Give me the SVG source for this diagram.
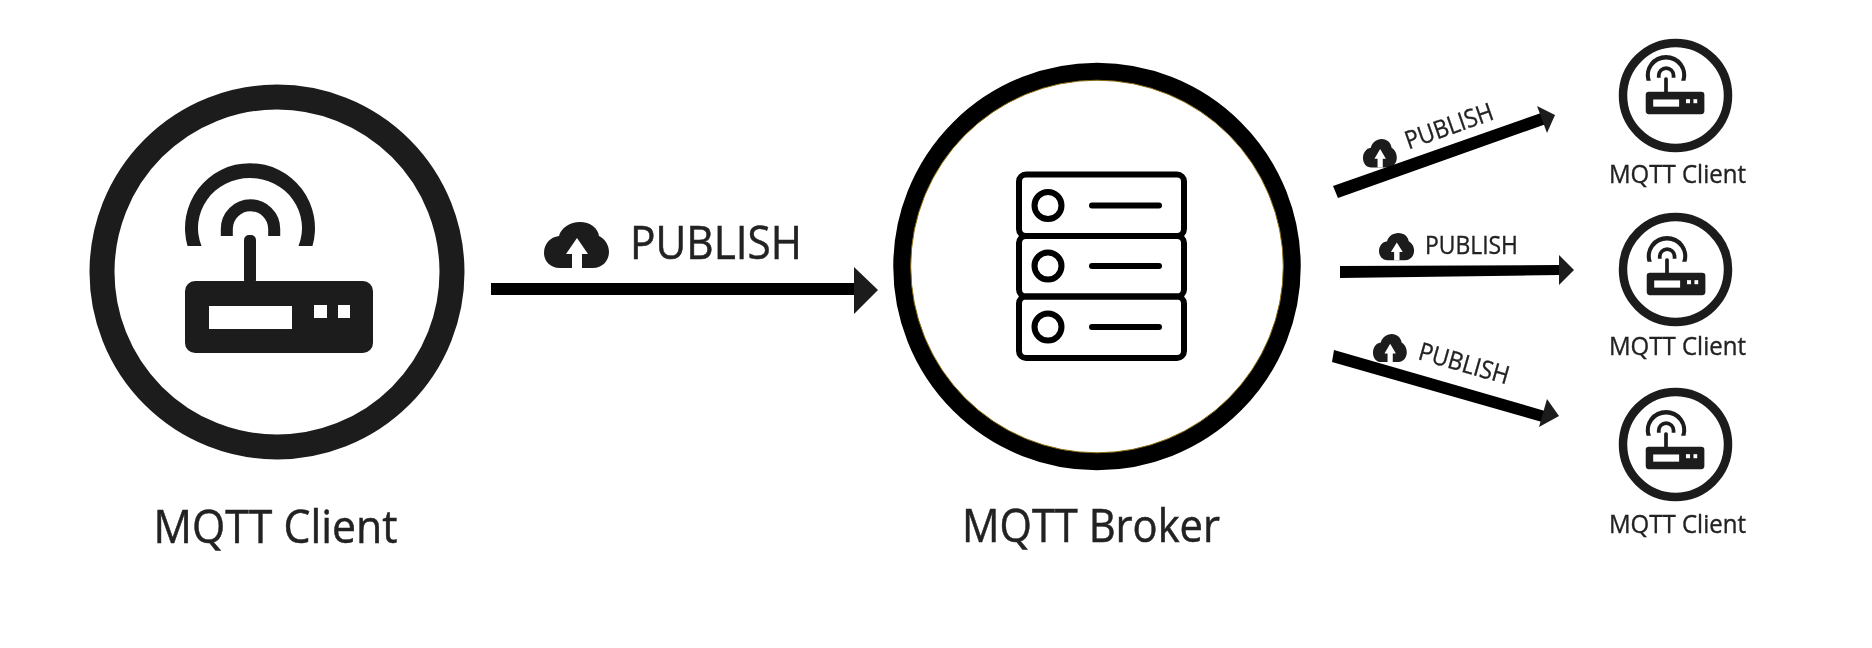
<svg xmlns="http://www.w3.org/2000/svg" xmlns:xlink="http://www.w3.org/1999/xlink" width="1872" height="648" viewBox="0 0 1872 648">
<style>
text{font-family:"Open Sans","Liberation Sans",sans-serif;fill:#222}
.big{font-size:45px;stroke:#222;stroke-width:.5}
.small{font-size:25px;fill:#222;stroke:#222;stroke-width:.35}
.ring{fill:none;stroke:#1d1d1b}
.srv{fill:none;stroke:#000;stroke-width:6}
.srvl{stroke:#000;stroke-width:6;stroke-linecap:round}
.ln{fill:#000}
.hd{fill:#1d1d1b}
.soft{filter:url(#soft)}
.softer{filter:url(#softer)}
</style>
<defs>
<filter id="soft" x="-5%" y="-5%" width="110%" height="110%"><feGaussianBlur stdDeviation="0.5"/></filter>
<filter id="softer" x="-5%" y="-5%" width="110%" height="110%"><feGaussianBlur stdDeviation="0.7"/></filter>
<g id="router">
<path d="M187.5 246A65 65 0 1 1 312.5 246H298.5A52 50 0 1 0 201.5 246Z" fill="#1d1d1b"/>
<path d="M226.8 236V229A23.7 23.7 0 0 1 274.2 229V236" fill="none" stroke="#1d1d1b" stroke-width="12"/>
<rect x="244" y="235" width="12" height="50" rx="5" fill="#1d1d1b"/>
<rect x="185" y="281" width="188" height="72" rx="10" fill="#1d1d1b"/>
<rect x="209" y="306" width="83" height="23" fill="#fff"/>
<rect x="314" y="305" width="13" height="13" fill="#fff"/>
<rect x="338" y="305" width="12" height="13" fill="#fff"/>
</g>
<g id="cloud">
<path d="M16 46C6 46 0 39 0 31C0 22 6 15 15 14C17 6 26 0 36 0C46 0 54 6 55 14C61 17 65 23 65 30C65 39 58 46 49 46Z" fill="#1d1d1b"/>
<path d="M28 46V32H22L33 16L44 32H38V46Z" fill="#fff"/>
</g>
</defs>
<rect width="1872" height="648" fill="#fff"/>

<g id="labels">
<g id="label-main" class="soft">
<use xlink:href="#cloud" href="#cloud" x="544" y="222"/>
<text class="big" x="630" y="259" textLength="172" lengthAdjust="spacingAndGlyphs">PUBLISH</text>
</g>
<g id="label-top" class="softer">
<use xlink:href="#cloud" href="#cloud" transform="translate(1363,139) scale(.52,.62)"/>
<text class="small" transform="translate(1408.5,149.5) rotate(-19.4)" textLength="92" lengthAdjust="spacingAndGlyphs">PUBLISH</text>
</g>
<g id="label-mid" class="softer">
<use xlink:href="#cloud" href="#cloud" transform="translate(1379,233) scale(.54,.59)"/>
<text class="small" x="1425" y="254" textLength="93" lengthAdjust="spacingAndGlyphs">PUBLISH</text>
</g>
<g id="label-bottom" class="softer">
<use xlink:href="#cloud" href="#cloud" transform="translate(1373,334) scale(.52,.61)"/>
<text class="small" transform="translate(1417,359) rotate(15.9)" textLength="93" lengthAdjust="spacingAndGlyphs">PUBLISH</text>
</g>
</g>

<g id="connectors">
<g id="arrow-main" class="soft">
<rect class="ln" x="491" y="283" width="364" height="12"/>
<polygon class="hd" points="854,267 878,290 854,314"/>
</g>
<g id="arrow-top" class="softer">
<polygon class="ln" points="1333,186 1338,198 1546,124 1541,113"/>
<polygon class="hd" points="1537,106 1555,115 1547,133"/>
</g>
<g id="arrow-mid" class="softer">
<polygon class="ln" points="1340,266 1560,265 1560,275 1340,278"/>
<polygon class="hd" points="1559,255 1574,270 1559,285"/>
</g>
<g id="arrow-bottom" class="softer">
<polygon class="ln" points="1334,350 1332,362 1542,422 1545,411"/>
<polygon class="hd" points="1547,399 1559,416 1539,427"/>
</g>
</g>

<g id="client-main" class="soft">
<circle class="ring" cx="277" cy="272" r="175" stroke-width="25"/>
<use xlink:href="#router" href="#router"/>
<text class="big" x="153.5" y="543" textLength="244" lengthAdjust="spacingAndGlyphs">MQTT Client</text>
</g>

<g id="broker" class="soft">
<circle cx="1097" cy="266.5" r="195" fill="none" stroke="#000" stroke-width="17.5"/>
<circle cx="1097" cy="266.5" r="186.3" fill="none" stroke="#8a6d10" stroke-width="1"/>
<rect class="srv" x="1019" y="174.5" width="165" height="61.5" rx="7"/>
<rect class="srv" x="1019" y="236" width="165" height="60.5" rx="7"/>
<rect class="srv" x="1019" y="296.5" width="165" height="61.5" rx="7"/>
<circle class="srv" cx="1048" cy="205.5" r="13.5"/>
<circle class="srv" cx="1048" cy="266" r="13.5"/>
<circle class="srv" cx="1048" cy="327" r="13.5"/>
<line class="srvl" x1="1092" y1="205.5" x2="1159" y2="205.5"/>
<line class="srvl" x1="1092" y1="266" x2="1159" y2="266"/>
<line class="srvl" x1="1092" y1="327" x2="1159" y2="327"/>
<text class="big" x="962" y="542" textLength="258" lengthAdjust="spacingAndGlyphs">MQTT Broker</text>
</g>

<g id="client-1" class="softer">
<circle class="ring" cx="1675.5" cy="95.5" r="52.5" stroke-width="8.5"/>
<use xlink:href="#router" href="#router" transform="translate(1588,4) scale(.312)"/>
<text class="small" x="1609" y="183" textLength="137" lengthAdjust="spacingAndGlyphs">MQTT Client</text>
</g>
<g id="client-2" class="softer">
<circle class="ring" cx="1675.5" cy="269.5" r="52.5" stroke-width="8.5"/>
<use xlink:href="#router" href="#router" transform="translate(1589,185) scale(.312)"/>
<text class="small" x="1609" y="355" textLength="137" lengthAdjust="spacingAndGlyphs">MQTT Client</text>
</g>
<g id="client-3" class="softer">
<circle class="ring" cx="1675.5" cy="444.5" r="52.5" stroke-width="8.5"/>
<use xlink:href="#router" href="#router" transform="translate(1588,359) scale(.312)"/>
<text class="small" x="1609" y="533" textLength="137" lengthAdjust="spacingAndGlyphs">MQTT Client</text>
</g>
</svg>
